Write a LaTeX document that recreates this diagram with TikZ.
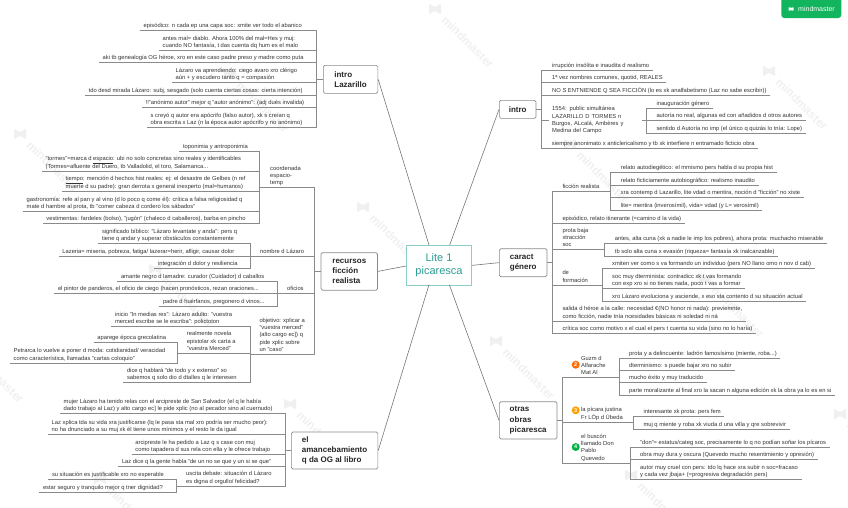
\documentclass[tikz,border=0pt]{standalone}
\usepackage{fontspec}
\setmainfont{Liberation Sans}
\definecolor{verdote}{HTML}{13B45E}
\definecolor{turquesa}{HTML}{2E9C92}
\definecolor{bordeturq}{HTML}{8CCDC8}
\definecolor{rayagris}{HTML}{8A8A8A}
\definecolor{tinta}{HTML}{333333}
\definecolor{sombra}{HTML}{F0F0F0}
\tikzstyle{texto}=[
	rectangle,
	align=left,
	text=tinta,
	font=\fontsize{5.8}{7.3}\selectfont,
	inner xsep=3.5pt,
	inner ysep=1.2pt]
\tikzstyle{hoja}=[
	texto,
	anchor=south west,
	text depth=1.4pt]
\tikzstyle{rama}=[
	draw=rayagris,
	line width=0.9pt]
\tikzstyle{eje}=[
	draw=rayagris!85!black,
	line width=0.6pt]
\tikzstyle{caja}=[
	rectangle,
	anchor=north west,
	align=left,
	rounded corners=1.5pt,
	draw=rayagris,
	fill=white,
	line width=0.7pt,
	text=black!85,
	font=\fontsize{8}{10.3}\selectfont\bfseries]
\tikzstyle{punto}=[
	circle,
	inner sep=0pt,
	minimum size=8pt,
	text=white,
	font=\fontsize{5.5}{6}\selectfont\bfseries]
\tikzstyle{letrero}=[
	anchor=west,
	rotate=-45,
	inner sep=0pt,
	text=sombra,
	font=\fontsize{12}{12}\selectfont\bfseries]
\tikzset{
	logo/.pic={\fill[pic actions,rounded corners=1pt] (-5,-4.5) -- (0,-1.5) -- (5,-4.5) -- (5,4.5) -- (0,1.5) -- (-5,4.5) -- cycle;},
	marca/.pic={\pic[scale=1.2,fill=sombra] {logo}; \node[letrero] (-texto) at (12.5,0) {mindmaster};}}

\begin{document}
\begin{tikzpicture}[x=1pt,y=-1pt]
	\useasboundingbox (0,0) rectangle (848,507);

	\pic (m1)  [rotate=-45] at (-35,344) {marca};
	\pic (m2)  [rotate=-45] at (100,479) {marca};
	\pic (m3)  [rotate=-45] at (20,134)  {marca};
	\pic (m4)  [rotate=-45] at (155,269) {marca};
	\pic (m5)  [rotate=-45] at (290,404) {marca};
	\pic (m6)  [rotate=-45] at (230,74)  {marca};
	\pic (m7)  [rotate=-45] at (363,207) {marca};
	\pic (m8)  [rotate=-45] at (496,341) {marca};
	\pic (m9)  [rotate=-45] at (631,475) {marca};
	\pic (m10) [rotate=-45] at (435,9)   {marca};
	\pic (m11) [rotate=-45] at (570,144) {marca};
	\pic (m12) [rotate=-45] at (705,279) {marca};
	\pic (m13) [rotate=-45] at (840,414) {marca};
	\pic (m14) [rotate=-45] at (769,71)  {marca};

	\fill[verdote,rounded corners=3pt] (781.3,-5) rectangle (841.3,18);
	\node[inner sep=0pt,text=white,font=\fontsize{7}{7}\selectfont] (sello) at (816.5,9) {mindmaster};
	\pic[scale=0.5,fill=white] at (791,9) {logo};

	\node[rectangle,draw=bordeturq,fill=white,line width=1pt,minimum width=65pt,minimum height=39.7pt,anchor=north west,align=center,text=turquesa,font=\fontsize{11}{13.3}\selectfont] (lite) at (406,245) {Lite 1\\picaresca};

	\node[caja,minimum width=54.5pt,minimum height=28pt] (lazarillo) at (323,65) {intro\\Lazarillo};
	\node[caja,minimum width=56.5pt,minimum height=37.5pt] (recursos) at (320.7,252.3) {recursos\\ficción\\realista};
	\node[caja,minimum width=86.5pt,minimum height=37pt] (amance) at (291,431.7) {el\\amancebamiento\\q da OG al libro};
	\node[caja,minimum width=36.7pt,minimum height=18pt] (intro) at (499,100) {intro};
	\node[caja,minimum width=47.7pt,minimum height=28pt] (caract) at (499,248.3) {caract\\género};
	\node[caja,minimum width=57.7pt,minimum height=37.4pt] (otras) at (499,401.3) {otras\\obras\\picaresca};

	\draw[eje] (lazarillo.east) -- (429,245);
	\draw[eje] (intro.west) -- (449.7,245);
	\draw[eje] (recursos.east) -- (lite.west |- 0,266);
	\draw[eje] (lite.east) -- (caract.west);
	\draw[eje] (amance.east) -- (429,284.7);
	\draw[eje] (otras.west) -- (449.3,284.7);

	\coordinate (tlaz) at (316.7,0);
	\node[hoja] (episodico) at (140,30.5) {episódico: n cada ep una capa soc: xmite ver todo el abanico};
	\node[hoja] (antes) at (159,50.3) {antes mal= diablo. Ahora 100\% del mal=Hes y muj:\\cuando NO fantasía, t das cuenta dq hum es el malo};
	\node[hoja] (genealogia) at (99,62.3) {aki tb genealogía OG héroe, xro en este caso padre preso y madre como puta};
	\node[hoja] (aprende) at (172,82.3) {Lázaro va aprendiendo: ciego avaro xro clérigo\\aún + y escudero tanto q = compasión};
	\node[hoja] (mirada) at (85,95) {tdo desd mirada Lázaro: subj, sesgado (solo cuenta ciertas cosas: cierta intención)};
	\node[hoja] (anonimo) at (142,107.7) {!!"anónimo autor" mejor q "autor anónimo": (adj dués invalida)};
	\node[hoja] (apocrifo) at (147,127.3) {s creyó q autor era apócrifo (falso autor), xk s creían q\\obra escrita x Laz (n la época autor apócrifo y no anónimo)};
	\draw[rama] (episodico.south west) -- (episodico.south west -| tlaz) -- (apocrifo.south west -| tlaz) -- (apocrifo.south west);
	\draw[rama] (antes.south west) -- (antes.south west -| tlaz);
	\draw[rama] (genealogia.south west) -- (genealogia.south west -| tlaz);
	\draw[rama] (aprende.south west) -- (aprende.south west -| tlaz);
	\draw[rama] (mirada.south west) -- (mirada.south west -| tlaz);
	\draw[rama] (anonimo.south west) -- (anonimo.south west -| tlaz);
	\draw[rama] (lazarillo.west) -- (lazarillo.west -| tlaz);

	\coordinate (trec) at (314.7,0);
	\coordinate (tcoord) at (259.3,0);
	\coordinate (tnombre) at (250,0);
	\coordinate (toficio) at (277.3,0);
	\coordinate (tepis) at (177.3,0);
	\node[hoja] (coordenada) at (266.5,187.7) {coordenada\\espacio-\\temp};
	\node[hoja] (toponimia) at (179.3,151.7) {toponimia y antroponimia};
	\node[hoja] (tormes) at (42,171.7) {"tormes"=marca d \underline{espacio}: ubi no solo concretas sino reales y identificables\\(Tormes=afluente del Duero, tb Valladolid, el toro, Salamanca...};
	\node[hoja] (tiempo) at (62,191.7) {\underline{tiempo}: mención d hechos hist reales: ej: el desastre de Gelbes (n ref\\muerte d su padre): gran derrota x general inexperto (mal=humanos)};
	\node[hoja] (gastro) at (23,211.3) {gastronomía: refe al pan y al vino (d lo poco q come él): crítica a falsa religiosidad q\\mate d hambre al prota, tb "comer cabeza d cordero los sábados"};
	\node[hoja] (vesti) at (42.7,223.7) {vestimentas: fardeles (bolso), "jugón" (chaleco d caballeros), barba en pincho};
	\draw[rama] (toponimia.south west) -- (toponimia.south west -| tcoord) -- (vesti.south west -| tcoord) -- (vesti.south west);
	\draw[rama] (tormes.south west) -- (tormes.south west -| tcoord);
	\draw[rama] (tiempo.south west) -- (tiempo.south west -| tcoord);
	\draw[rama] (gastro.south west) -- (gastro.south west -| tcoord);
	\draw[rama] (tcoord |- coordenada.south) -- (trec |- coordenada.south);

	\node[hoja] (nombre) at (256.5,256.3) {nombre d Lázaro};
	\node[hoja] (biblico) at (98.3,243.7) {significado bíblico: "Lázaro levantate y anda": pers q\\tiene q andar y superar obstáculos constantemente};
	\node[hoja] (lazeria) at (58.7,256.3) {Lazeria= miseria, pobreza, fatiga/ lazerar=herir, afligir, causar dolor};
	\node[hoja] (integra) at (154.3,268) {integración d dolor y resiliencia};
	\draw[rama] (biblico.south west) -- (biblico.south west -| tnombre) -- (integra.south west -| tnombre) -- (integra.south west);
	\draw[rama] (lazeria.south west) -- (lazeria.south west -| tnombre);
	\draw[rama] (tnombre |- nombre.south) -- (trec |- nombre.south);

	\node[hoja] (oficios) at (283.5,293.7) {oficios};
	\node[hoja] (amante) at (117.3,281.3) {amante negro d lamadre: curador (Cuidador) d caballos};
	\node[hoja] (pintor) at (54.3,293.7) {el pintor de panderos, el oficio de ciego (hacen pronósticos, rezan oraciones...};
	\node[hoja] (huerfanos) at (159.3,306) {padre d huérfanos, pregonero d vinos...};
	\draw[rama] (amante.south west) -- (amante.south west -| toficio) -- (huerfanos.south west -| toficio) -- (huerfanos.south west);
	\draw[rama] (pintor.south west) -- (pintor.south west -| toficio);
	\draw[rama] (toficio |- oficios.south) -- (trec |- oficios.south);

	\node[hoja] (objetivo) at (255.8,354.3) {objetivo: xplicar a\\"vuestra merced"\\(alto cargo ec]) q\\pide xplic sobre\\un "caso"};
	\node[hoja] (inicio) at (111.3,326.3) {inicio "In medias res": Lázaro adulto: "vuestra\\merced escribe se le escriba": polictoton};
	\node[hoja] (novela) at (183.2,353.3) {realmente novela\\epistolar xk carta a\\"vuestra Merced"};
	\node[hoja] (dice) at (123.3,382.3) {dice q hablará "de todo y x extenso" xo\\sabemos q solo dio d dtalles q le interesen};
	\node[hoja] (aparege) at (93.7,342.3) {aparege época grecolatina};
	\node[hoja] (petrarca) at (10,363) {Petrarca lo vuelve a poner d moda: cotidianidad/ veracidad\\como característica, llamadas "cartas coloquio"};
	\draw[rama] (inicio.south west) -- (inicio.south west -| tnombre) -- (dice.south west -| tnombre) -- (dice.south west);
	\draw[rama] (aparege.south west) -- (aparege.south west -| tepis) -- (petrarca.south west -| tepis) -- (petrarca.south west);
	\draw[rama] (tepis |- novela.south) -- (tnombre |- novela.south);
	\draw[rama] (tnombre |- objetivo.south) -- (trec |- objetivo.south);
	\draw[rama] (trec |- coordenada.south) -- (trec |- objetivo.south);
	\draw[rama] (recursos.west) -- (recursos.west -| trec);

	\coordinate (tama) at (285.3,0);
	\coordinate (tdebate) at (176,0);
	\node[hoja] (mujer) at (60,413.7) {mujer Lázaro ha tenido relas con el arcipreste de San Salvador (el q le había\\dado trabajo al Laz) y alto cargo ec] le pide xplic (no al pecador sino al cuernudo)};
	\node[hoja] (xplica) at (48,434.3) {Laz xplica tda su vida xra justificarse (lq le pasa sta mal xro podría ser mucho peor):\\no ha dnunciado a su muj xk él tiene unos mínimos y el resto le da igual};
	\node[hoja] (arcipreste) at (131.7,454.3) {arcipreste le ha pedido a Laz q s case con muj\\como tapadera d sus rela con ella y le ofrece trabajo};
	\node[hoja] (gente) at (118.3,466.3) {Laz dice q la gente habla "de un no se que y un si se que"};
	\node[hoja] (debate) at (182.5,486) {uscita debate: situación d Lázaro\\es digna d orgullo/ felicidad?};
	\node[hoja] (situacion) at (48.3,479.3) {su situación es justificable xro no esperable};
	\node[hoja] (seguro) at (39.3,492.3) {estar seguro y tranquilo mejor q tner dignidad?};
	\draw[rama] (mujer.south west) -- (mujer.south west -| tama) -- (debate.south west -| tama) -- (tdebate |- debate.south west);
	\draw[rama] (xplica.south west) -- (xplica.south west -| tama);
	\draw[rama] (arcipreste.south west) -- (arcipreste.south west -| tama);
	\draw[rama] (gente.south west) -- (gente.south west -| tama);
	\draw[rama] (situacion.south west) -- (situacion.south west -| tdebate) -- (seguro.south west -| tdebate) -- (seguro.south west);
	\draw[rama] (amance.west) -- (amance.west -| tama);

	\coordinate (tintro) at (541.3,0);
	\coordinate (tfecha) at (646.3,0);
	\node[hoja] (irrupcion) at (548.5,70) {irrupción insólita e inaudita d realismo};
	\node[hoja] (nombres) at (548.5,82.7) {1ª vez nombres comunes, quotid, REALES};
	\node[hoja] (entiende) at (548.5,95.3) {NO S ENTNIENDE Q SEA FICCIÓN (lo es xk analfabetismo (Laz no sabe escribir))};
	\node[texto,anchor=west,text width=85.7pt] (fecha) at (548.5,120.3) {1554: public simultánea\\LAZARILLO D TORMES n\\Burgos, ALcalá, Ambères y\\Medina del Campo};
	\node[hoja] (inaugura) at (652.8,108) {inauguración género};
	\node[hoja] (autoria) at (652.8,120.3) {autoría no real, algunas ed con añadidos d otros autores};
	\node[hoja] (sentido) at (652.8,133.3) {sentido d Autoría no imp (el único q quizás lo tnía: Lope)};
	\node[hoja] (siempre) at (548.2,148.3) {siempre anonimato x anticlericalismo y tb xk interfiere n entramado ficticio obra};
	\draw[rama] (irrupcion.south east) -- (irrupcion.south east -| tintro) -- (siempre.south east -| tintro) -- (siempre.south east);
	\draw[rama] (nombres.south east) -- (nombres.south east -| tintro);
	\draw[rama] (entiende.south east) -- (entiende.south east -| tintro);
	\draw[rama] (tintro |- fecha.west) -- (fecha.west);
	\draw[rama] (fecha.east) -- (fecha.east -| tfecha);
	\draw[rama] (inaugura.south east) -- (inaugura.south east -| tfecha) -- (sentido.south east -| tfecha) -- (sentido.south east);
	\draw[rama] (autoria.south east) -- (autoria.south east -| tfecha);
	\draw[rama] (intro.east) -- (intro.east -| tintro);

	\coordinate (tcar) at (552.3,0);
	\coordinate (tficcion) at (610.7,0);
	\coordinate (tbaja) at (604.3,0);
	\coordinate (tforma) at (602.3,0);
	\node[hoja] (ficcion) at (558.8,191) {ficción realista};
	\node[hoja] (autodie) at (617.2,172.3) {relato autodiegético: el mmismo pers habla d su propia hist};
	\node[hoja] (ficti) at (617.2,185) {relato ficticiamente autobiográfico: realismo inaudito};
	\node[hoja] (contemp) at (617.2,197.7) {xra contemp d Lazarillo, lite vdad o mentira, noción d "ficción" no xiste};
	\node[hoja] (liteq) at (617.2,210.3) {lite= mentira (inverosímil), vida= vdad (y L= verosímil)};
	\node[hoja] (itinerante) at (558.8,223) {episódico, relato itinerante (=camino d la vida)};
	\node[hoja] (baja) at (558.8,249.7) {prota baja\\xtracción\\soc};
	\node[hoja] (cuna) at (611.2,243.3) {antes, alta cuna (xk a nadie le imp los pobres), ahora prota: muchacho miserable};
	\node[hoja] (evasion) at (611.2,256) {tb solo alta cuna x evasión (riqueza= fantasía xk inalcanzable)};
	\node[hoja] (formacion) at (558.8,285) {de\\formación};
	\node[hoja] (xmiten) at (608.5,268.7) {xmiten ver como s va formando un individuo (pers NO llano omo n nov d cab)};
	\node[hoja] (soc) at (608.5,288.3) {soc muy dterminista: contradicc xk t vas formando\\con exp xro si no tienes nada, poco t vas a formar};
	\node[hoja] (asciende) at (608.5,301.3) {xro Lázaro evoluciona y asciende, x eso sta contento d su situación actual};
	\node[hoja] (salida) at (558.8,321) {salida d héroe a la calle: necesidad €(NO honor ni nada): previemnte,\\como ficción, nadie tnía ncesidades básicas ni soledad ni ná};
	\node[hoja] (critica) at (558.8,333) {crítica soc como motivo x el cual el pers t cuenta su vida (sino no lo haría)};
	\draw[rama] (ficcion.south west -| tficcion) -- (ficcion.south west -| tcar) -- (critica.south west -| tcar) -- (critica.south east);
	\draw[rama] (autodie.south east) -- (autodie.south east -| tficcion) -- (liteq.south east -| tficcion) -- (liteq.south east);
	\draw[rama] (ficti.south east) -- (ficti.south east -| tficcion);
	\draw[rama] (contemp.south east) -- (contemp.south east -| tficcion);
	\draw[rama] (itinerante.south east) -- (itinerante.south east -| tcar);
	\draw[rama] (tcar |- baja.south) -- (tbaja |- baja.south);
	\draw[rama] (cuna.south east) -- (cuna.south east -| tbaja) -- (evasion.south east -| tbaja) -- (evasion.south east);
	\draw[rama] (tcar |- formacion.south) -- (tforma |- formacion.south);
	\draw[rama] (xmiten.south east) -- (xmiten.south east -| tforma) -- (asciende.south east -| tforma) -- (asciende.south east);
	\draw[rama] (soc.south east) -- (soc.south east -| tforma);
	\draw[rama] (salida.south east) -- (salida.south east -| tcar);
	\draw[rama] (caract.east) -- (caract.east -| tcar);

	\coordinate (totras) at (562.3,0);
	\coordinate (tguzman) at (619,0);
	\coordinate (tjustina) at (633.3,0);
	\coordinate (tbuscon) at (630.7,0);
	\node[hoja] (guzman) at (577.5,377.7) {Guzm d\\Alfarache\\Mat Al};
	\node[punto,fill=orange!85!red] (dos) at (575.7,364.7) {2};
	\node[hoja] (ladron) at (625.5,358.3) {prota y a delincuente: ladrón famosísimo (miente, roba...)};
	\node[hoja] (bajar) at (625.5,370.7) {dterminismo: s puede bajar xro no subir};
	\node[hoja] (exito) at (625.5,382.7) {mucho éxito y muy traducido};
	\node[hoja] (moral) at (625.5,395.3) {parte moralizante al final xro la sacan n alguna edición xk la obra ya lo es en si};
	\node[hoja] (justina) at (577.5,422) {la pícara justina\\Fr LÓp d Úbeda};
	\node[punto,fill=orange!75!yellow] (tres) at (575.7,410.3) {3};
	\node[hoja] (prota) at (639.8,416.3) {interesante xk prota: pers fem};
	\node[hoja] (viuda) at (639.8,429) {muj q miente y roba xk viuda d una villa y qre sobrevivir};
	\node[hoja] (buscon) at (577.5,463) {el buscón\\llamado Don\\Pablo\\Quevedo};
	\node[punto,fill=green!60!black!75!cyan] (cuatro) at (575.7,447) {4};
	\node[hoja] (don) at (636.5,447) {"don"= estatus/categ soc, precisamente lo q no podían soñar los pícaros};
	\node[hoja] (dura) at (636.5,459.3) {obra muy dura y oscura (Quevedo mucho resentimiento y opresión)};
	\node[hoja] (cruel) at (636.5,479.3) {autor muy cruel con pers: tdo lq hace xra subir n soc=fracaso\\y cada vez jbaja+ (=progresiva degradación pers)};
	\draw[rama] (tguzman |- guzman.south) -- (totras |- guzman.south) -- (totras |- buscon.south) -- (tbuscon |- buscon.south);
	\draw[rama] (totras |- justina.south) -- (tjustina |- justina.south);
	\draw[rama] (ladron.south east) -- (ladron.south east -| tguzman) -- (moral.south east -| tguzman) -- (moral.south east);
	\draw[rama] (bajar.south east) -- (bajar.south east -| tguzman);
	\draw[rama] (exito.south east) -- (exito.south east -| tguzman);
	\draw[rama] (prota.south east) -- (prota.south east -| tjustina) -- (viuda.south east -| tjustina) -- (viuda.south east);
	\draw[rama] (don.south east) -- (don.south east -| tbuscon) -- (cruel.south east -| tbuscon) -- (cruel.south east);
	\draw[rama] (dura.south east) -- (dura.south east -| tbuscon);
	\draw[rama] (otras.east) -- (otras.east -| totras);
\end{tikzpicture}
\end{document}
